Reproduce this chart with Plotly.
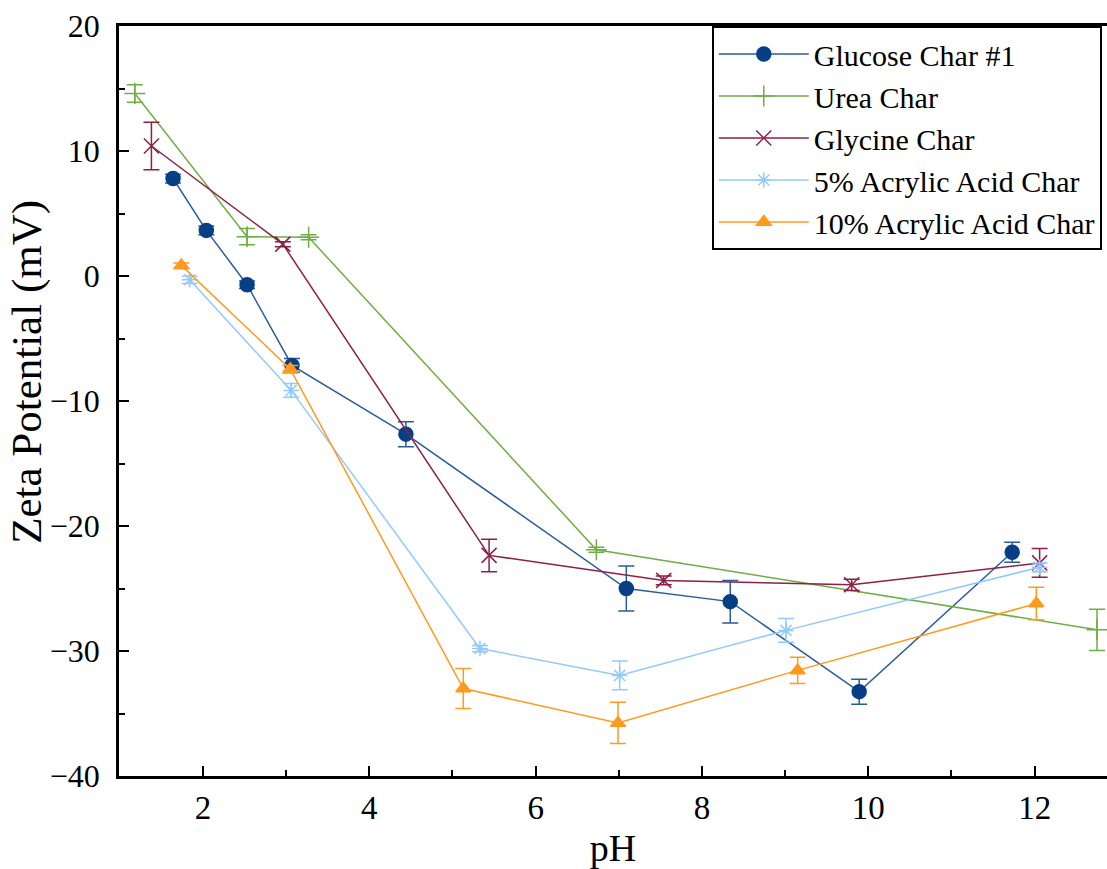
import plotly.graph_objects as go

# Zeta potential vs pH for the five chars (mean ± error)
glucose_ph = [1.64, 2.04, 2.53, 3.07, 4.44, 7.09, 8.34, 9.89, 11.73]
glucose_zeta = [7.8, 3.65, -0.7, -7.15, -12.65, -25.0, -26.05, -33.25, -22.1]
glucose_err = [0.35, 0.35, 0.3, 0.55, 1.0, 1.8, 1.7, 1.0, 0.8]

urea_ph = [1.18, 2.53, 3.27, 6.73, 12.75]
urea_zeta = [14.6, 3.15, 3.1, -21.9, -28.3]
urea_err = [0.7, 0.65, 0.2, 0.2, 1.65]

glycine_ph = [1.38, 2.96, 5.44, 7.54, 9.8, 12.06]
glycine_zeta = [10.4, 2.55, -22.35, -24.35, -24.7, -22.95]
glycine_err = [1.9, 0.2, 1.3, 0.35, 0.45, 1.15]

aa5_ph = [1.84, 3.06, 5.33, 7.01, 9.01, 12.06]
aa5_zeta = [-0.3, -9.15, -29.8, -31.95, -28.35, -23.3]
aa5_err = [0.3, 0.55, 0.25, 1.15, 0.95, 0.35]

aa10_ph = [1.74, 3.05, 5.13, 6.99, 9.15, 12.02]
aa10_zeta = [0.85, -7.45, -33.0, -35.75, -31.55, -26.2]
aa10_err = [0.2, 0.3, 1.6, 1.65, 1.05, 1.3]

series = [
    ("Glucose Char #1", glucose_ph, glucose_zeta, glucose_err,
     "#2a5c9b", "#063f86", "circle", 14),
    ("Urea Char", urea_ph, urea_zeta, urea_err,
     "#6fae45", "#6fae45", "cross-thin", 15),
    ("Glycine Char", glycine_ph, glycine_zeta, glycine_err,
     "#8c2046", "#8c2046", "x-thin", 15),
    ("5% Acrylic Acid Char", aa5_ph, aa5_zeta, aa5_err,
     "#92caff", "#92caff", "asterisk", 13),
    ("10% Acrylic Acid Char", aa10_ph, aa10_zeta, aa10_err,
     "#ff9a1e", "#ff9a1e", "triangle-up", 13),
]

FONT = "'Liberation Serif', 'Times New Roman', Times, 'DejaVu Serif', serif"

fig = go.Figure()
for i, (name, xs, ys, es, lc, mc, sym, size) in enumerate(series):
    fig.add_trace(go.Scatter(
        x=xs, y=ys, name=name, mode="lines+markers",
        legendgroup=f"g{i}",
        line=dict(color=lc, width=1.5),
        marker=dict(symbol=sym, size=size, color=mc,
                    line=dict(color=mc, width=1.5)),
        error_y=dict(type="data", array=es, visible=True,
                     color=lc, thickness=1.5, width=8),
    ))

fig.update_layout(
    width=1107, height=869,
    margin=dict(l=119, r=0, t=26, b=93),
    paper_bgcolor="white", plot_bgcolor="white",
    font=dict(family=FONT, color="black", size=32),
    showlegend=True,
    legend=dict(
        x=0.6, y=1, xanchor="left", yanchor="top",
        bgcolor="white", bordercolor="black", borderwidth=2,
        font=dict(family=FONT, size=30, color="black"),
        tracegroupgap=0, itemwidth=90,
    ),
    xaxis=dict(
        range=[0.99, 12.87], tick0=0, dtick=2,
        ticks="inside", ticklen=10, tickwidth=2, tickcolor="black",
        minor=dict(dtick=1, ticks="inside", ticklen=6, tickwidth=2,
                   tickcolor="black"),
        showline=True, linewidth=2.5, linecolor="black", mirror=True,
        showgrid=False, zeroline=False,
        tickfont=dict(family=FONT, size=33),
        ticklabelstandoff=1,
        title=dict(text="pH", font=dict(family=FONT, size=38), standoff=10),
    ),
    yaxis=dict(
        range=[-40, 20], tick0=0, dtick=10,
        ticks="inside", ticklen=10, tickwidth=2, tickcolor="black",
        minor=dict(dtick=5, ticks="inside", ticklen=6, tickwidth=2,
                   tickcolor="black"),
        showline=True, linewidth=2.5, linecolor="black", mirror=False,
        showgrid=False, zeroline=False,
        tickfont=dict(family=FONT, size=32),
        ticklabelstandoff=10,
    ),
    annotations=[dict(
        text="Zeta Potential (mV)", textangle=-90,
        xref="paper", yref="paper", x=-0.093, y=0.539,
        xanchor="center", yanchor="middle", showarrow=False,
        font=dict(family=FONT, size=43, color="black"),
    )],
)

fig.write_html("out.html")
